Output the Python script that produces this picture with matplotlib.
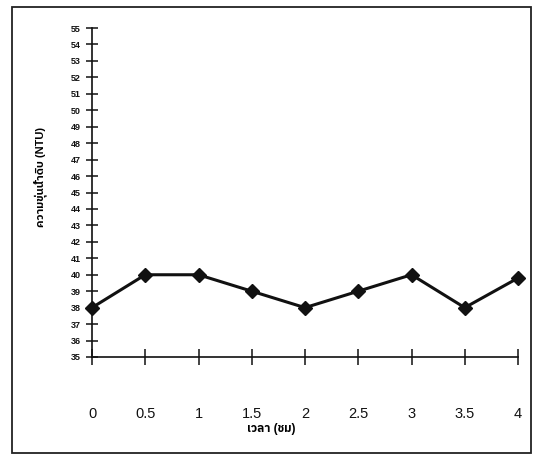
import matplotlib
matplotlib.use('Agg')
import matplotlib.pyplot as plt
from matplotlib.patches import Rectangle

# turbidity of raw water over time
time_hr = [0, 0.5, 1, 1.5, 2, 2.5, 3, 3.5, 4]
turbidity = [38, 40, 40, 39, 38, 39, 40, 38, 39.8]
x_ticklabels = ['0', '0.5', '1', '1.5', '2', '2.5', '3', '3.5', '4']
y_ticks = list(range(35, 56))

# Liberation for latin digits, a Thai family for the Thai labels
plt.rcParams['font.family'] = ['Liberation Sans', 'IBM Plex Sans Thai',
                               'Noto Sans Thai', 'DejaVu Sans']

fig = plt.figure(figsize=(5.37, 4.58), dpi=100)
fig.patch.set_facecolor('white')

# outer frame around the whole chart
fig.patches.append(Rectangle((12 / 537, 5 / 458), 519 / 537, 446 / 458,
                             transform=fig.transFigure, fill=False,
                             edgecolor='#222222', linewidth=1.3))

ax = fig.add_axes([92 / 537, 101 / 458, 426 / 537, 329 / 458])
ax.plot(time_hr, turbidity, color='#111111', linewidth=2.2,
        marker='D', markersize=7, markerfacecolor='#111111',
        markeredgecolor='#111111', clip_on=False, zorder=5)

ax.set_xlim(0, 4)
ax.set_ylim(35, 55)
ax.set_xticks(time_hr)
ax.set_xticklabels(x_ticklabels, fontsize=10.5)
ax.set_yticks(y_ticks)
ax.set_yticklabels([str(v) for v in y_ticks], fontsize=6.5, fontweight='bold')

for side in ['top', 'right']:
    ax.spines[side].set_visible(False)
for side in ['left', 'bottom']:
    ax.spines[side].set_linewidth(1.2)
    ax.spines[side].set_color('#111111')

ax.tick_params(axis='x', direction='inout', length=12, width=1.1, pad=30, colors='#111111')
ax.tick_params(axis='y', direction='inout', length=8, width=1.1, pad=4, colors='#111111')

ax.set_xlabel('เวลา (ชม)', fontsize=8.5, fontweight='bold')
ax.set_ylabel('ความขุ่นน้ำดิบ (NTU)', fontsize=8, fontweight='bold')
ax.xaxis.set_label_coords(0.42, -0.20)
ax.yaxis.set_label_coords(-0.106, 0.547)

fig.savefig('out.png', dpi=100, facecolor='white')
